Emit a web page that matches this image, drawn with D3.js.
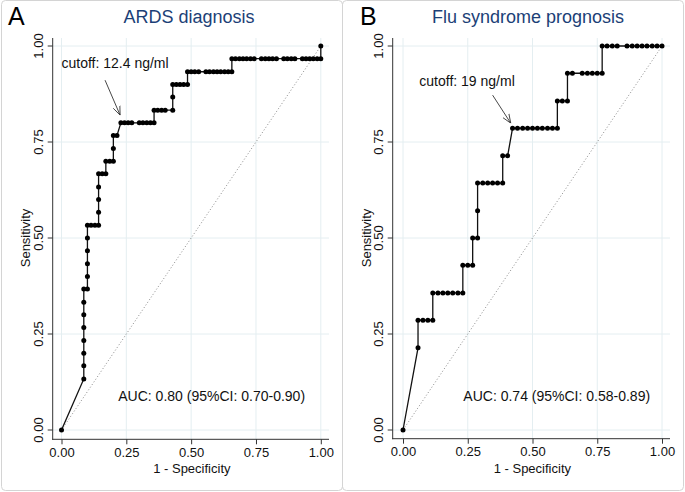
<!DOCTYPE html>
<html>
<head>
<meta charset="utf-8">
<script src="https://cdn.jsdelivr.net/npm/d3@7"></script>
<style>
  html, body { margin: 0; padding: 0; background: #fff; }
  svg { display: block; font-family: "Liberation Sans", Arial, Helvetica, sans-serif; }
</style>
</head>
<body>
<svg id="chart" width="685" height="492"></svg>
<script>
// ---------- data ----------
const tickValues = [0, 0.25, 0.5, 0.75, 1];
const tickLabels = ["0.00", "0.25", "0.50", "0.75", "1.00"];

const panelLetters = ["A", "B"];
const panelTitles = ["ARDS diagnosis", "Flu syndrome prognosis"];
const cutoffLabels = ["cutoff: 12.4 ng/ml", "cutoff: 19 ng/ml"];
const aucLabels = ["AUC: 0.80 (95%CI: 0.70-0.90)", "AUC: 0.74 (95%CI: 0.58-0.89)"];
const xTitle = "1 - Specificity";
const yTitle = "Sensitivity";

// Panel A: ROC points (1 - specificity, sensitivity)
const aFpr = [0,
  0.086, 0.086, 0.086, 0.086, 0.086, 0.086, 0.086, 0.086,
  0.1, 0.1, 0.1, 0.1, 0.1, 0.1,
  0.114, 0.129, 0.143,
  0.143, 0.143, 0.143, 0.143,
  0.157, 0.171,
  0.171, 0.186, 0.2,
  0.2, 0.2,
  0.214,
  0.229, 0.243, 0.257, 0.271, 0.3, 0.314, 0.329, 0.343, 0.357,
  0.357, 0.371, 0.386, 0.4, 0.429,
  0.429, 0.429,
  0.443, 0.457, 0.471, 0.486,
  0.486, 0.5, 0.514, 0.529, 0.557, 0.571, 0.586, 0.6, 0.614, 0.629, 0.643, 0.657,
  0.657, 0.671, 0.686, 0.7, 0.714, 0.729, 0.743, 0.771, 0.786, 0.8, 0.814, 0.829,
  0.857, 0.871, 0.886, 0.9, 0.929, 0.943, 0.957, 0.971, 0.986, 1,
  1];
const aSens = [0,
  0.133, 0.167, 0.2, 0.233, 0.267, 0.3, 0.333, 0.367,
  0.367, 0.4, 0.433, 0.467, 0.5, 0.533,
  0.533, 0.533, 0.533,
  0.567, 0.6, 0.633, 0.667,
  0.667, 0.667,
  0.7, 0.7, 0.7,
  0.733, 0.767,
  0.767,
  0.8, 0.8, 0.8, 0.8, 0.8, 0.8, 0.8, 0.8, 0.8,
  0.833, 0.833, 0.833, 0.833, 0.833,
  0.867, 0.9,
  0.9, 0.9, 0.9, 0.9,
  0.933, 0.933, 0.933, 0.933, 0.933, 0.933, 0.933, 0.933, 0.933, 0.933, 0.933, 0.933,
  0.967, 0.967, 0.967, 0.967, 0.967, 0.967, 0.967, 0.967, 0.967, 0.967, 0.967, 0.967,
  0.967, 0.967, 0.967, 0.967, 0.967, 0.967, 0.967, 0.967, 0.967, 0.967,
  1];

// Panel B: ROC points (1 - specificity, sensitivity)
const bFpr = [0,
  0.058, 0.058, 0.077, 0.096, 0.115,
  0.115, 0.135, 0.154, 0.173, 0.192, 0.212, 0.231,
  0.231, 0.25, 0.269,
  0.269, 0.288,
  0.288, 0.288,
  0.308, 0.327, 0.346, 0.365, 0.385,
  0.385, 0.404,
  0.423, 0.442, 0.462, 0.481, 0.5, 0.519, 0.538, 0.558, 0.577, 0.596,
  0.596, 0.615, 0.635,
  0.635, 0.654, 0.692, 0.712, 0.731, 0.75, 0.769,
  0.769, 0.788, 0.808, 0.827, 0.865, 0.885, 0.904, 0.923, 0.942, 0.962, 0.981, 1];
const bSens = [0,
  0.214, 0.286, 0.286, 0.286, 0.286,
  0.357, 0.357, 0.357, 0.357, 0.357, 0.357, 0.357,
  0.429, 0.429, 0.429,
  0.5, 0.5,
  0.571, 0.643,
  0.643, 0.643, 0.643, 0.643, 0.643,
  0.714, 0.714,
  0.786, 0.786, 0.786, 0.786, 0.786, 0.786, 0.786, 0.786, 0.786, 0.786,
  0.857, 0.857, 0.857,
  0.929, 0.929, 0.929, 0.929, 0.929, 0.929, 0.929,
  1, 1, 1, 1, 1, 1, 1, 1, 1, 1, 1, 1];

// Annotation anchors in data units
const cutoffTextPos = [[0.0, 0.942], [0.063, 0.897]];
const arrowFrom = [[0.168, 0.911], [0.346, 0.872]];
const arrowTo = [[0.226, 0.82], [0.416, 0.799]];
const aucTextPos = [[0.219, 0.076], [0.233, 0.075]];

// ---------- layout ----------
const panels = [
  { fpr: aFpr, sens: aSens, xr: [61.5, 320.8], axisX: 52.7, axisY: 439.3, right: 329, box: [1.5, 342.5], letterX: 8, titleX: 189, yTitleX: 25 },
  { fpr: bFpr, sens: bSens, xr: [403, 662], axisX: 392.7, axisY: 438.7, right: 670, box: [342.5, 683.5], letterX: 360, titleX: 528, yTitleX: 366 }
];
const yRange = [430, 46];
const plotTop = 38;
const gridColor = "#e4eef1";
const tickFont = 13;
const noteFont = 14;

const svg = d3.select("#chart");

svg.append("defs").append("marker")
  .attr("id", "arr").attr("viewBox", "0 0 10 10").attr("refX", 10).attr("refY", 5)
  .attr("markerWidth", 9).attr("markerHeight", 9).attr("markerUnits", "userSpaceOnUse")
  .attr("orient", "auto")
  .append("path").attr("d", "M0,1 L10,5 L0,9").attr("fill", "none")
  .attr("stroke", "#333").attr("stroke-width", 0.9);

panels.forEach((p, i) => {
  const g = svg.append("g");
  const x = d3.scaleLinear().domain([0, 1]).range(p.xr);
  const y = d3.scaleLinear().domain([0, 1]).range(yRange);

  // panel frame
  g.append("rect").attr("x", p.box[0]).attr("y", 0.5)
    .attr("width", p.box[1] - p.box[0]).attr("height", 490)
    .attr("rx", 4).attr("fill", "none").attr("stroke", "#d4d4d4").attr("stroke-width", 1);

  // gridlines
  g.append("g").selectAll("line.h").data(tickValues).join("line")
    .attr("x1", p.axisX).attr("x2", p.right)
    .attr("y1", d => y(d)).attr("y2", d => y(d))
    .attr("stroke", gridColor).attr("stroke-width", 1);
  g.append("g").selectAll("line.v").data(tickValues).join("line")
    .attr("y1", plotTop).attr("y2", p.axisY)
    .attr("x1", d => x(d)).attr("x2", d => x(d))
    .attr("stroke", gridColor).attr("stroke-width", 1);

  // axes
  const yAxis = g.append("g").attr("transform", `translate(${p.axisX},0)`)
    .call(d3.axisLeft(y).tickValues(tickValues).tickFormat((d, j) => tickLabels[j]).tickSize(5).tickPadding(3));
  yAxis.select(".domain").remove();
  yAxis.selectAll(".tick").attr("transform", null);
  yAxis.selectAll(".tick line").attr("stroke", "#333").attr("y1", d => y(d)).attr("y2", d => y(d)).attr("x2", -5);
  yAxis.selectAll("text")
    .attr("transform", function (d) { return `rotate(-90, -9, ${y(d)})`; })
    .attr("x", -9).attr("y", d => y(d)).attr("dy", "-0.05em")
    .attr("text-anchor", "middle")
    .attr("font-size", tickFont).attr("font-family", "Liberation Sans, Arial, sans-serif").attr("fill", "#111");

  const xAxis = g.append("g").attr("transform", `translate(0,${p.axisY})`)
    .call(d3.axisBottom(x).tickValues(tickValues).tickFormat((d, j) => tickLabels[j]).tickSize(5).tickPadding(3));
  xAxis.select(".domain").remove();
  xAxis.selectAll("line").attr("stroke", "#333");
  xAxis.selectAll("text").attr("font-size", tickFont).attr("font-family", "Liberation Sans, Arial, sans-serif").attr("fill", "#111");

  g.append("line").attr("x1", p.axisX).attr("x2", p.axisX).attr("y1", plotTop).attr("y2", p.axisY + 0.5)
    .attr("stroke", "#333").attr("stroke-width", 1);
  g.append("line").attr("x1", p.axisX - 0.5).attr("x2", p.right).attr("y1", p.axisY).attr("y2", p.axisY)
    .attr("stroke", "#333").attr("stroke-width", 1);

  // axis titles
  g.append("text").attr("x", (p.axisX + p.right) / 2 + 1).attr("y", 472.5)
    .attr("text-anchor", "middle").attr("font-size", tickFont).attr("fill", "#111").text(xTitle);
  g.append("text").attr("transform", `translate(${p.yTitleX + 5},${y(0.5)}) rotate(-90)`)
    .attr("text-anchor", "middle").attr("font-size", tickFont).attr("fill", "#111").text(yTitle);

  // reference diagonal
  g.append("line").attr("x1", x(0)).attr("y1", y(0)).attr("x2", x(1)).attr("y2", y(1))
    .attr("stroke", "#8a8a8a").attr("stroke-width", 1).attr("stroke-dasharray", "1,2.2");

  // ROC curve
  const pts = p.fpr.map((f, j) => [f, p.sens[j]]);
  g.append("path").datum(pts)
    .attr("d", d3.line().x(d => x(d[0])).y(d => y(d[1])))
    .attr("fill", "none").attr("stroke", "#111").attr("stroke-width", 1.3);
  g.append("g").selectAll("circle").data(pts).join("circle")
    .attr("cx", d => x(d[0])).attr("cy", d => y(d[1])).attr("r", 2.5).attr("fill", "#000");

  // annotations
  g.append("text").attr("x", x(cutoffTextPos[i][0])).attr("y", y(cutoffTextPos[i][1]))
    .attr("font-size", noteFont).attr("fill", "#111").text(cutoffLabels[i]);
  g.append("line")
    .attr("x1", x(arrowFrom[i][0])).attr("y1", y(arrowFrom[i][1]))
    .attr("x2", x(arrowTo[i][0])).attr("y2", y(arrowTo[i][1]))
    .attr("stroke", "#333").attr("stroke-width", 0.9).attr("marker-end", "url(#arr)");
  g.append("text").attr("x", x(aucTextPos[i][0])).attr("y", y(aucTextPos[i][1]))
    .attr("font-size", noteFont).attr("fill", "#111").text(aucLabels[i]);

  // titles
  g.append("text").attr("x", p.letterX).attr("y", 25).attr("font-size", 25).attr("fill", "#000").text(panelLetters[i]);
  g.append("text").attr("x", p.titleX).attr("y", 23).attr("text-anchor", "middle")
    .attr("font-size", 18).attr("fill", "#1c3f77").text(panelTitles[i]);
});
</script>
</body>
</html>
